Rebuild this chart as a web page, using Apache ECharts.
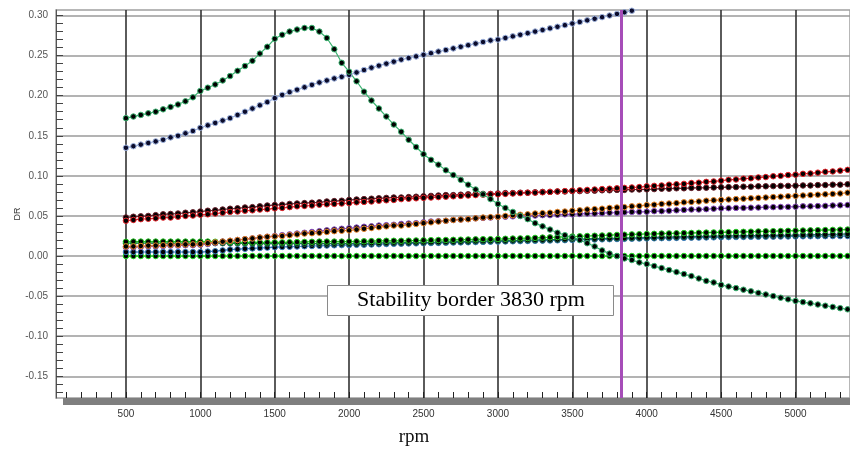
<!DOCTYPE html>
<html><head><meta charset="utf-8">
<script src="https://cdn.jsdelivr.net/npm/echarts@6/dist/echarts.min.js"></script>
<style>html,body{margin:0;padding:0;background:#fff}#c{width:850px;height:449px}</style>
</head><body><div id="c"></div>
<script>
const rpm = [500,550,600,650,700,750,800,850,900,950,
1000,1050,1100,1150,1200,1250,1300,1350,1400,1450,
1500,1550,1600,1650,1700,1750,1800,1850,1900,1950,
2000,2050,2100,2150,2200,2250,2300,2350,2400,2450,
2500,2550,2600,2650,2700,2750,2800,2850,2900,2950,
3000,3050,3100,3150,3200,3250,3300,3350,3400,3450,
3500,3550,3600,3650,3700,3750,3800,3850,3900,3950,
4000,4050,4100,4150,4200,4250,4300,4350,4400,4450,
4500,4550,4600,4650,4700,4750,4800,4850,4900,4950,
5000,5050,5100,5150,5200,5250,5300,5350];

const drPeakGreen = [.172,.174,.176,.178,.180,.183,.186,.189,.193,.198,
.206,.210,.214,.219,.2245,.231,.237,.2435,.2525,.261,
.271,.276,.280,.2825,.2845,.2845,.280,.272,.258,.241,
.230,.218,.205,.194,.184,.174,.164,.155,.145,.136,
.127,.120,.114,.107,.101,.095,.089,.083,.077,.071,
.065,.060,.055,.050,.046,.041,.037,.033,.029,.026,
.023,.020,.016,.012,.007,.003,.000,-.003,-.005,-.008,
-.010,-.0125,-.015,-.0175,-.020,-.0225,-.025,-.028,-.031,-.033,
-.036,-.038,-.040,-.042,-.044,-.046,-.048,-.050,-.052,-.054,
-.056,-.0575,-.059,-.0605,-.062,-.0635,-.065,-.0665];

const drNavy = [.135,.137,.139,.141,.143,.145,.148,.150,.153,.156,
.160,.163,.166,.169,.172,.176,.180,.184,.188,.192,
.197,.201,.2045,.2075,.2105,.2135,.2165,.219,.2215,.2235,
.226,.229,.232,.235,.2375,.240,.2425,.245,.247,.249,
.251,.253,.255,.257,.259,.261,.263,.265,.267,.269,
.270,.272,.274,.276,.278,.280,.282,.284,.286,.288,
.290,.292,.294,.296,.298,.300,.302,.304,.306,.308];

const drRed = [.044,.045,.046,.0465,.047,.048,.048,.049,.050,.0505,
.0515,.052,.053,.054,.055,.0555,.0565,.057,.058,.0585,
.0595,.060,.061,.062,.0625,.063,.064,.0645,.065,.0655,
.066,.067,.0675,.068,.069,.0695,.070,.071,.0715,.072,
.0725,.073,.0735,.074,.0745,.075,.0755,.076,.0765,.077,
.077,.0775,.078,.0785,.079,.079,.0795,.080,.0805,.081,
.0815,.082,.0825,.083,.0835,.084,.0845,.085,.0855,.086,
.087,.0875,.088,.089,.0895,.090,.091,.0915,.0925,.093,
.094,.095,.0955,.0965,.097,.098,.0985,.0995,.100,.101,
.1015,.1025,.103,.104,.105,.1055,.1065,.1075];

const drMaroon = [.048,.049,.0495,.050,.051,.052,.0525,.053,.054,.0545,
.0555,.0565,.057,.058,.059,.0595,.0605,.061,.062,.063,
.0636,.064,.065,.0655,.066,.0665,.067,.068,.0685,.069,
.070,.0705,.071,.0715,.072,.0725,.073,.073,.0735,.074,
.0745,.075,.0755,.076,.076,.0765,.077,.077,.0775,.0775,
.078,.0785,.0785,.079,.079,.0795,.080,.080,.0805,.0805,
.081,.081,.0815,.0815,.082,.082,.0825,.0825,.083,.083,
.0832,.0835,.084,.084,.0845,.0845,.085,.085,.0852,.0855,
.0857,.086,.086,.0865,.0865,.087,.087,.0872,.0875,.0875,
.0877,.088,.088,.0885,.0885,.089,.089,.0895];

const drOrange = [.012,.012,.0125,.013,.013,.0135,.014,.014,.0145,.0145,
.015,.016,.017,.018,.019,.020,.021,.022,.023,.024,
.0245,.025,.026,.027,.028,.0285,.029,.030,.031,.0315,
.032,.033,.034,.035,.036,.037,.038,.038,.039,.040,
.041,.042,.043,.044,.045,.0455,.046,.047,.048,.0485,
.049,.050,.051,.0515,.052,.053,.0535,.054,.055,.0555,
.0565,.057,.058,.0585,.059,.060,.0605,.061,.062,.0625,
.0635,.064,.065,.0655,.066,.067,.0675,.068,.069,.0695,
.070,.0705,.071,.0715,.072,.0725,.073,.0735,.074,.0745,
.075,.0755,.076,.0765,.077,.0775,.078,.079];

const drPurple = [.011,.011,.0115,.012,.012,.0125,.013,.013,.0135,.0135,
.014,.015,.0165,.018,.019,.020,.021,.022,.023,.024,
.025,.026,.027,.028,.029,.030,.031,.032,.033,.034,
.0346,.0355,.0365,.037,.038,.0385,.039,.040,.0405,.041,
.042,.043,.0435,.044,.045,.0455,.046,.047,.0475,.048,
.049,.049,.0495,.050,.050,.0505,.051,.051,.0515,.052,
.052,.0525,.053,.053,.0535,.054,.054,.0545,.055,.055,
.0553,.056,.056,.0565,.057,.0575,.058,.058,.0585,.059,
.0595,.0597,.060,.060,.0603,.0605,.061,.061,.0612,.0613,
.0615,.062,.062,.0623,.0625,.063,.0633,.0636];

const drGreen = [.0178,.018,.018,.018,.018,.018,.018,.018,.018,.018,
.018,.018,.0178,.0176,.0174,.0172,.017,.017,.017,.017,
.017,.017,.0172,.0174,.0176,.0178,.018,.018,.018,.018,
.018,.0182,.0184,.0186,.0188,.019,.019,.019,.0192,.0194,
.0196,.0198,.020,.020,.0202,.0204,.0206,.0208,.021,.021,
.0212,.0215,.0218,.022,.0223,.0226,.023,.0233,.0236,.024,
.0243,.0246,.025,.0253,.0256,.026,.0263,.0266,.027,.0272,
.0275,.0277,.028,.0282,.0284,.0286,.0288,.029,.0292,.0294,
.0296,.0298,.030,.0302,.0304,.0306,.0308,.031,.0312,.0314,
.0316,.0318,.032,.0322,.0324,.0326,.0328,.033];

const drTeal = [.016,.016,.016,.016,.016,.016,.016,.016,.016,.016,
.016,.016,.016,.016,.0158,.0158,.0156,.0156,.0155,.0155,
.0155,.0155,.0155,.0155,.0155,.0155,.0155,.0155,.0155,.0155,
.0155,.0157,.0159,.0161,.0163,.0165,.0167,.0168,.0169,.017,
.017,.0172,.0174,.0176,.0178,.018,.0182,.0184,.0186,.0188,
.019,.0192,.0194,.0196,.0198,.020,.0202,.0204,.0206,.0208,
.021,.0212,.0214,.0216,.0218,.022,.0222,.0224,.0226,.0228,
.023,.0232,.0234,.0236,.0238,.024,.0242,.0244,.0246,.0248,
.025,.0251,.0252,.0253,.0254,.0255,.0256,.0257,.0258,.0259,
.026,.0262,.0264,.0266,.0268,.027,.0272,.0275];

const drBlue = [.005,.005,.005,.005,.005,.005,.005,.005,.005,.005,
.005,.0055,.006,.007,.008,.0085,.009,.0095,.010,.0105,
.011,.0113,.0116,.0119,.0122,.0125,.0128,.0131,.0134,.0136,
.0137,.014,.0142,.0144,.0147,.015,.0152,.0154,.0157,.0158,
.016,.0162,.0164,.0166,.0168,.017,.0172,.0174,.0176,.0178,
.018,.0182,.0184,.0186,.0188,.019,.0192,.0194,.0196,.0198,
.020,.0202,.0204,.0206,.0208,.021,.0212,.0214,.0216,.0218,
.022,.0221,.0223,.0224,.0226,.0227,.0229,.023,.0232,.0233,
.0235,.0236,.0237,.0238,.0239,.024,.0241,.0242,.0243,.0244,
.0245,.0246,.0247,.0248,.0248,.0249,.0249,.025];

const drZero = [0,0,0,0,0,0,0,0,0,0, 0,0,0,0,0,0,0,0,0,0,
0,0,0,0,0,0,0,0,0,0, 0,0,0,0,0,0,0,0,0,0,
0,0,0,0,0,0,0,0,0,0, 0,0,0,0,0,0,0,0,0,0,
0,0,0,0,0,0,0,0,0,0, 0,0,0,0,0,0,0,0,0,0,
0,0,0,0,0,0,0,0,0,0, 0,0,0,0,0,0,0,0];

const xTickLabels = [500,1000,1500,2000,2500,3000,3500,4000,4500,5000];
const xMinorTicks = [100,200,300,400,500,600,700,800,900,1000,1100,1200,1300,1400,1500,1600,1700,1800,1900,2000,
2100,2200,2300,2400,2500,2600,2700,2800,2900,3000,3100,3200,3300,3400,3500,3600,3700,3800,3900,4000,
4100,4200,4300,4400,4500,4600,4700,4800,4900,5000,5100,5200,5300];
const yTickLabels = [-0.15,-0.10,-0.05,0,0.05,0.10,0.15,0.20,0.25,0.30];
const yMinorTicks = [-0.17,-0.16,-0.15,-0.14,-0.13,-0.12,-0.11,-0.10,-0.09,-0.08,-0.07,-0.06,-0.05,-0.04,-0.03,-0.02,-0.01,0,
0.01,0.02,0.03,0.04,0.05,0.06,0.07,0.08,0.09,0.10,0.11,0.12,0.13,0.14,0.15,0.16,0.17,0.18,0.19,0.20,
0.21,0.22,0.23,0.24,0.25,0.26,0.27,0.28,0.29,0.30];
const stabilityRpm = 3830;
const stabilityText = 'Stability border 3830 rpm';

const X_MIN = 30, X_MAX = 5366, Y_MIN = -0.1771, Y_MAX = 0.3069;

function pairs(vals){ return vals.map((v,i)=>[rpm[i], v]); }
function mk(name, vals, color, dot){
  return {
    name, type:'line', data:pairs(vals), xAxisIndex:0, yAxisIndex:0,
    symbol:'circle', symbolSize:5.5, showSymbol:true,
    itemStyle:{color: dot || '#000', borderColor: color, borderWidth: 1},
    lineStyle:{color: color, width: 1.2},
    emphasis:{disabled:true}, clip:true, z:3
  };
}

const series = [
  mk('zero', drZero, '#22dd22'),
  mk('blue', drBlue, '#3a7fc0'),
  mk('teal', drTeal, '#1f6a55'),
  mk('green', drGreen, '#22cc22'),
  mk('purple', drPurple, '#8a4cc0'),
  mk('orange', drOrange, '#e8862a'),
  mk('maroon', drMaroon, '#6b1f2a'),
  mk('red', drRed, '#e8232a'),
  mk('navy', drNavy, '#9fb4e0', '#0b0b2a'),
  mk('peak', drPeakGreen, '#3cb371')
];
series[series.length-1].markLine = {
  silent:true, symbol:['none','none'], label:{show:false},
  lineStyle:{color:'#a64db8', width:3, type:'solid'},
  data:[{xAxis: stabilityRpm}]
};

const chart = echarts.init(document.getElementById('c'), null, {renderer:'canvas'});
chart.setOption({
  animation:false,
  backgroundColor:'#fff',
  grid:{left:56, right:0, top:10, bottom:51, show:true, borderColor:'#a0a0a0', borderWidth:1.5},
  xAxis:[
    {type:'value', position:'bottom', min:X_MIN, max:X_MAX,
     axisLine:{show:false, onZero:false}, axisTick:{show:false, customValues:xTickLabels},
     axisLabel:{customValues:xTickLabels, formatter:v=>String(v), color:'#333', fontSize:10, fontFamily:'Liberation Sans, Arial, sans-serif', margin:11},
     splitLine:{show:true, lineStyle:{color:'#333', width:1.6}}},
    {type:'value', position:'bottom', min:X_MIN, max:X_MAX,
     axisLine:{show:false, onZero:false}, axisTick:{show:true, inside:true, length:6, customValues:xMinorTicks, lineStyle:{color:'#222', width:1}},
     axisLabel:{show:false}, splitLine:{show:false}}
  ],
  yAxis:[
    {type:'value', position:'left', min:Y_MIN, max:Y_MAX,
     axisLine:{show:true, onZero:false, lineStyle:{color:'#555', width:1}},
     axisTick:{show:false, customValues:yTickLabels},
     axisLabel:{customValues:yTickLabels, formatter:v=>v.toFixed(2), color:'#555', fontSize:10, fontFamily:'Liberation Sans, Arial, sans-serif', margin:8},
     splitLine:{show:true, lineStyle:{color:'#9a9a9a', width:1.5}}},
    {type:'value', position:'left', min:Y_MIN, max:Y_MAX,
     axisLine:{show:false, onZero:false}, axisTick:{show:true, inside:true, length:7, customValues:yMinorTicks, lineStyle:{color:'#444', width:1}},
     axisLabel:{show:false}, splitLine:{show:false}}
  ],
  series,
  graphic:[
    {type:'rect', left:63, top:398, z:10, shape:{width:787, height:7}, style:{fill:'#7f7f7f'}},
    {type:'rect', left:327, top:285, z:50, shape:{width:286, height:30}, style:{fill:'#fff', stroke:'#8a8a8a', lineWidth:1}},
    {type:'text', x:471, y:300, z:51, style:{text:stabilityText, font:'22px "Liberation Serif", "Times New Roman", serif', fill:'#000', align:'center', verticalAlign:'middle'}},
    {type:'text', x:414, y:437, z:20, style:{text:'rpm', font:'19px "Liberation Serif", "Times New Roman", serif', fill:'#111', align:'center', verticalAlign:'middle'}},
    {type:'text', x:18, y:214, rotation:Math.PI/2, z:20, style:{text:'DR', font:'9px "Liberation Sans", Arial, sans-serif', fill:'#333', align:'center', verticalAlign:'middle'}}
  ]
});
</script>
</body></html>
